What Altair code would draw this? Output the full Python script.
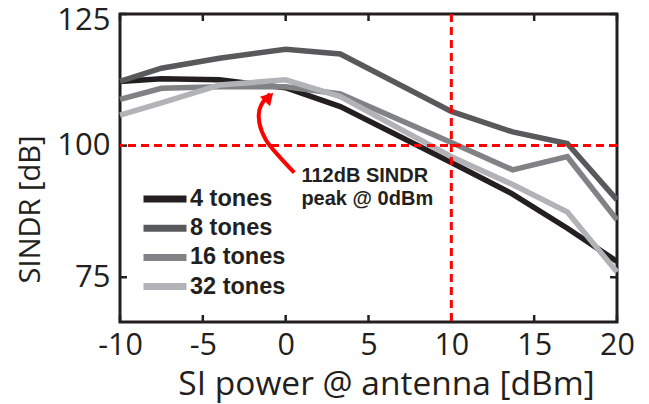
import altair as alt
import pandas as pd

# ---- data ----
POWER = [-10, -7.5, -4, 0, 3.3, 10, 13.7, 17, 20]
SINDR_4 = [112.2, 112.7, 112.5, 111.0, 107.4, 96.8, 90.8, 84.3, 78.0]
SINDR_8 = [112.2, 114.7, 116.6, 118.3, 117.4, 106.5, 102.6, 100.4, 89.7]
SINDR_16 = [108.8, 110.9, 111.2, 111.2, 109.8, 100.6, 95.4, 97.9, 85.9]
SINDR_32 = [105.8, 108.1, 111.5, 112.5, 109.3, 97.9, 92.6, 87.4, 76.0]
SERIES = ["4 tones", "8 tones", "16 tones", "32 tones"]
COLORS = ["#231f20", "#58595b", "#808285", "#b1b3b6"]

X_TICKS = [-10, -5, 0, 5, 10, 15, 20]
Y_TICKS = [75, 100, 125]
X_DOMAIN = [-10, 20]
Y_DOMAIN = [66.5, 125]

REF_X = [10]
REF_Y = [100]

ANNOT_TEXT = ["112dB SINDR", "peak @ 0dBm"]
ANNOT_X = [0.95]
ANNOT_Y = [93.15]

ARROW_X = [0.52, -0.38, -1.19, -1.59, -1.59, -1.29, -0.93]
ARROW_Y = [94.86, 97.90, 101.07, 104.30, 106.77, 108.67, 109.8]
HEAD_X = [-1.0]
HEAD_Y = [109.2]

# ---- build tables ----
rows = []
for name, vals in zip(SERIES, [SINDR_4, SINDR_8, SINDR_16, SINDR_32]):
    for x, y in zip(POWER, vals):
        rows.append({"power": x, "sindr": y, "series": name})
df = pd.DataFrame(rows)

xt = pd.DataFrame({"t": X_TICKS})
yt = pd.DataFrame({"t": Y_TICKS})
arrow = pd.DataFrame({"x": ARROW_X, "y": ARROW_Y, "i": list(range(len(ARROW_X)))})
head = pd.DataFrame({"x": HEAD_X, "y": HEAD_Y})
annot = pd.DataFrame({"x": ANNOT_X, "y": ANNOT_Y, "label": [ANNOT_TEXT]})

W, H = 497, 308
AX = "#231f20"
xs = alt.Scale(domain=X_DOMAIN, nice=False, zero=False)
ys = alt.Scale(domain=Y_DOMAIN, nice=False, zero=False)

x_axis = alt.Axis(
    values=X_TICKS, ticks=False, domain=False, grid=False,
    labelExpr="replace(datum.label, '\u2212', '-')",
    labelFont="Open Sans", labelFontSize=30.5, labelColor=AX, labelPadding=8,
    labelFlush=False,
    title="SI power @ antenna [dBm]", titleFont="Open Sans", titleFontSize=33.5,
    titleFontWeight="normal", titleColor=AX, titleX=266, titleY=72,
    titleAlign="center", titleBaseline="alphabetic",
)
y_axis = alt.Axis(
    values=Y_TICKS, ticks=False, domain=False, grid=False,
    labelFont="Open Sans", labelFontSize=31, labelColor=AX, labelPadding=10,
    labelFlush=True, labelFlushOffset=9,
    title="SINDR [dB]", titleFont="Open Sans", titleFontSize=29,
    titleFontWeight="normal", titleColor=AX, titleX=-81, titleY=195,
    titleAlign="center", titleBaseline="alphabetic", titleAngle=270,
)

lines = alt.Chart(df).mark_line(strokeWidth=5.5, strokeJoin="miter").encode(
    x=alt.X("power:Q", scale=xs, axis=x_axis),
    y=alt.Y("sindr:Q", scale=ys, axis=y_axis),
    color=alt.Color(
        "series:N",
        scale=alt.Scale(domain=SERIES, range=COLORS),
        legend=alt.Legend(
            title=None, orient="none", legendX=16, legendY=175, padding=0,
            symbolType="stroke", symbolSize=1849, symbolStrokeWidth=7,
            symbolOffset=4,
            clipHeight=20, rowPadding=5.2, labelOffset=0,
            labelExpr="length(datum.label) < 8 ? '\u2007' + datum.label : datum.label",
            labelFont="Liberation Sans", labelFontWeight="bold",
            labelFontSize=23.5, labelColor=AX,
        ),
    ),
    order=alt.Order("power:Q"),
)

tick_style = dict(color=AX, strokeWidth=2.5)
bottom_ticks = alt.Chart(xt).mark_rule(**tick_style).encode(
    x=alt.X("t:Q", scale=xs), y=alt.value(H), y2=alt.value(H - 7))
top_ticks = alt.Chart(xt).mark_rule(**tick_style).encode(
    x=alt.X("t:Q", scale=xs), y=alt.value(0), y2=alt.value(7))
left_ticks = alt.Chart(yt).mark_rule(**tick_style).encode(
    y=alt.Y("t:Q", scale=ys), x=alt.value(0), x2=alt.value(7))
right_ticks = alt.Chart(yt).mark_rule(**tick_style).encode(
    y=alt.Y("t:Q", scale=ys), x=alt.value(W), x2=alt.value(W - 7))

red = dict(color="#ff0000", strokeWidth=3, strokeDash=[8, 5])
vline = alt.Chart(pd.DataFrame({"v": REF_X})).mark_rule(**red).encode(
    x=alt.X("v:Q", scale=xs))
hline = alt.Chart(pd.DataFrame({"v": REF_Y})).mark_rule(**red).encode(
    y=alt.Y("v:Q", scale=ys))

arrow_line = alt.Chart(arrow).mark_line(
    color="#ff0000", strokeWidth=4, interpolate="catmull-rom").encode(
    x=alt.X("x:Q", scale=xs), y=alt.Y("y:Q", scale=ys), order=alt.Order("i:Q"))
arrow_head = alt.Chart(head).mark_point(
    shape="triangle-up", filled=True, color="#ff0000", opacity=1,
    size=190, angle=43).encode(
    x=alt.X("x:Q", scale=xs), y=alt.Y("y:Q", scale=ys))

annot_text = alt.Chart(annot).mark_text(
    align="left", baseline="alphabetic", font="Liberation Sans",
    fontWeight="bold", fontSize=20, lineHeight=23.5, color=AX).encode(
    x=alt.X("x:Q", scale=xs), y=alt.Y("y:Q", scale=ys), text="label")

chart = alt.layer(
    lines, bottom_ticks, top_ticks, left_ticks, right_ticks,
    hline, vline, arrow_line, arrow_head, annot_text,
).properties(
    width=W, height=H,
    padding={"left": 120, "top": 14, "right": 32, "bottom": 82},
    autosize=alt.AutoSizeParams(type="none"),
    background="white",
).configure_view(stroke=AX, strokeWidth=3)

chart.save("out.html", embed_options={"renderer": "svg", "actions": False})
